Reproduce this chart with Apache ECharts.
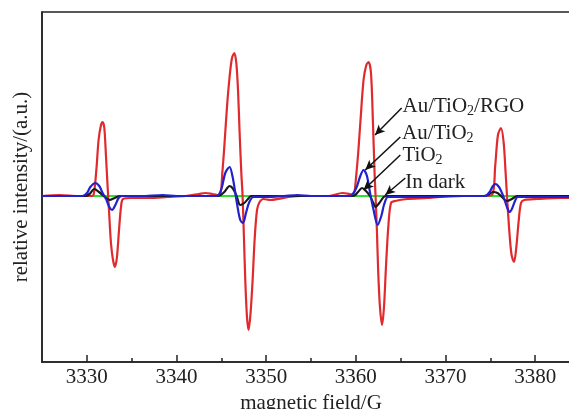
<!DOCTYPE html>
<html>
<head>
<meta charset="utf-8">
<script src="https://cdn.jsdelivr.net/npm/echarts@6/dist/echarts.min.js"></script>
<style>html,body{margin:0;padding:0;background:#fff}#c{width:569px;height:409px}</style>
</head>
<body>
<div id="c"></div>
<script>
// ---- data ----
const majorTicks = [3330, 3340, 3350, 3360, 3370, 3380];
const minorTicks = [3335, 3345, 3355, 3365, 3375];

const greenField = [3325, 3335, 3345, 3355, 3365, 3375, 3385];
const greenValue = [0, 0, 0, 0, 0, 0, 0];

const redField = [3325,3327,3329,3330.4,
  3330.75,3331.06,3331.31,3331.58,3331.76,3331.95,3332.14,3332.32,3332.47,3332.69,3332.92,3333.14,3333.36,3333.59,3333.81,3334.03,3334.85,
  3337,3339,3341,3342.5,3343.2,3344,3344.6,
  3344.88,3345.11,3345.33,3345.63,3345.92,3346.19,3346.45,3346.67,3346.86,3347.04,3347.23,3347.37,3347.53,3347.67,3347.86,3348.04,3348.26,3348.49,3348.71,3348.98,3349.27,3349.71,3350.46,3351.35,3352.5,3354,3357,3358.5,3359.3,
  3359.68,3360.13,3360.5,3360.86,3361.17,3361.42,3361.69,3361.91,3362.09,3362.2,3362.36,3362.5,3362.69,3362.92,3363.14,3363.36,3363.62,3363.92,3364.4,3365.7,3368,3371,3374,
  3375.18,3375.55,3375.85,3376.19,3376.48,3376.7,3376.92,3377.15,3377.37,3377.64,3377.89,3378.15,3378.42,3378.79,3380.2,3383,3385];
const redValue = [0,1,0,0,
  1,26,56,71,74,68,39,9,-14,-47,-64,-71,-61,-34,-11,-3,-2,
  -2,-1,0,2,3,2,1,
  1,23,49,89,119,138,143,133,106,63,23,0,-44,-84,-121,-134,-117,-84,-44,-14,-6,-3,-4,-3,-1,0,0,3,2,
  1,29,73,116,131,134,123,73,23,0,-37,-77,-111,-129,-111,-71,-31,-7,-5,-3,-2,0,0,
  1,31,61,68,54,24,-9,-39,-59,-66,-52,-26,-7,-4,-3,-2,-2];

const blueField = [3325,3328,3329.5,
  3330.02,3330.39,3330.94,3331.39,3331.76,3332.14,3332.51,3332.81,3333.18,3333.54,3333.92,
  3336,3338.5,3340,3343,3344.3,
  3344.69,3345.07,3345.44,3345.92,3346.26,3346.56,3346.81,3347.11,3347.42,3347.75,3348.12,3348.6,3350,3352,3353.5,3355,3358,3359.2,
  3359.57,3360.05,3360.5,3360.86,3361.24,3361.61,3361.98,3362.43,3362.84,3363.17,3363.59,3365,3368,3372,3374,
  3374.44,3374.92,3375.29,3375.58,3375.97,3376.3,3376.59,3376.89,3377.15,3377.45,3377.75,3378.04,3378.34,3381,3385];
const blueValue = [0,0,0,
  3,9,13,10,3,-3,-11,-14,-9,-2,0,
  0,1,0,0,0,
  1,9,23,29,19,3,-11,-24,-27,-17,-6,-1,-1,0,1,0,0,0,
  1,8,20,26,20,2,-14,-29,-20,-8,-1,-1,-1,0,0,
  0,4,10,12,9,3,-4,-12,-16,-12,-5,-1,-1,-1,-1];

const blackField = [3325,3329.8,
  3330.3,3330.83,3331.35,3331.9,3332.54,3333.1,3333.7,3344.2,
  3344.66,3345.33,3345.92,3346.33,3346.7,3347.11,3347.56,3347.97,3348.34,3359.3,
  3359.75,3360.24,3360.69,3361.13,3361.58,3361.95,3362.17,3362.62,3363.1,3363.51,3374.2,
  3374.7,3375.3,3375.8,3376.3,3376.85,3377.4,3378,3385];
const blackValue = [0,0,
  2,7,4,0,-4,-2,0,0,
  0,4,10,7,0,-9,-7,-3,0,0,
  0,4,8,5,0,-7,-11,-7,-1,0,0,
  1,4,3,-1,-5,-3,0,0];

// annotation labels (rich text) and their left/middle anchors in data units
const labelTexts = ['Au/TiO{s|2}/RGO', 'Au/TiO{s|2}', 'TiO{s|2}', 'In dark'];
const labelAnchor = [[3365.2, 90], [3365.15, 63], [3365.2, 41], [3365.5, 14]];
// arrows: [from field, from value, to field, to value]
const arrows = [
  [3365.11, 88, 3362.14, 61],
  [3364.96, 59, 3361.05, 26],
  [3364.96, 41, 3360.86, 6],
  [3365.52, 18, 3363.28, 1]
];

const zip = (a, b) => a.map((v, i) => [v, b[i]]);
const serif = '"Liberation Serif", "Times New Roman", serif';
const ink = '#222';

const chart = echarts.init(document.getElementById('c'), null, {renderer: 'canvas'});
const option = {
  animation: false,
  backgroundColor: '#fff',
  grid: {left: 42, top: 12, width: 538, height: 350, outerBoundsMode: 'none', containLabel: false,
    show: true, borderColor: ink, borderWidth: 1.5, backgroundColor: 'transparent'},
  xAxis: [{
    type: 'value', min: 3325, max: 3385,
    name: 'magnetic field/G', nameLocation: 'middle', nameGap: 28,
    nameTextStyle: {fontFamily: serif, fontSize: 21, color: ink},
    axisLine: {show: true, onZero: false, lineStyle: {color: ink, width: 1.5}},
    axisTick: {show: true, inside: true, length: 7, lineStyle: {color: ink, width: 1.5}, customValues: majorTicks},
    axisLabel: {show: true, fontFamily: serif, fontSize: 21, color: ink, margin: 5, customValues: majorTicks,
      formatter: v => String(v)},
    splitLine: {show: false}
  }, {
    type: 'value', min: 3325, max: 3385, position: 'bottom', gridIndex: 0,
    axisLine: {show: false, onZero: false},
    axisTick: {show: true, inside: true, length: 4, lineStyle: {color: ink, width: 1.5}, customValues: minorTicks},
    axisLabel: {show: false},
    splitLine: {show: false}
  }],
  yAxis: {
    type: 'value', min: -166, max: 184,
    name: 'relative intensity/(a.u.)', nameLocation: 'middle', nameGap: 10,
    nameTextStyle: {fontFamily: serif, fontSize: 21, color: ink},
    axisLine: {show: true, onZero: false, lineStyle: {color: ink, width: 1.5}},
    axisTick: {show: false}, axisLabel: {show: false}, splitLine: {show: false}
  },
  series: [
    {name: 'In dark', type: 'line', data: zip(greenField, greenValue), showSymbol: false, lineStyle: {color: '#2fe02f', width: 2.2}, z: 1},
    {name: 'Au/TiO2/RGO', type: 'line', data: zip(redField, redValue), smooth: 0.3, showSymbol: false, lineStyle: {color: '#e02a2e', width: 2.2}, z: 2},
    {name: 'TiO2', type: 'line', data: zip(blackField, blackValue), smooth: 0.3, showSymbol: false, lineStyle: {color: '#1a1a1a', width: 2.2}, z: 3},
    {name: 'Au/TiO2', type: 'line', data: zip(blueField, blueValue), smooth: 0.3, showSymbol: false, lineStyle: {color: '#2222cc', width: 2.2}, z: 4,
      markLine: {
        silent: true, symbol: ['none', 'arrow'], symbolSize: [7, 10],
        label: {show: false},
        lineStyle: {color: '#111', width: 1.5, type: 'solid'},
        data: arrows.map(a => [{coord: [a[0], a[1]]}, {coord: [a[2], a[3]]}])
      }
    }
  ]
};
chart.setOption(option);

const graphics = labelTexts.map((t, i) => {
  const p = chart.convertToPixel({xAxisIndex: 0, yAxisIndex: 0}, labelAnchor[i]);
  return {
    type: 'text', x: p[0], y: p[1], z: 100,
    style: {
      text: t, fill: ink, font: '21px ' + serif,
      textAlign: 'left', textVerticalAlign: 'middle',
      rich: {s: {fontSize: 14, fontFamily: serif, fill: ink, padding: [10, 0, 0, 0]}}
    }
  };
});
chart.setOption({graphic: graphics});
</script>
</body>
</html>
